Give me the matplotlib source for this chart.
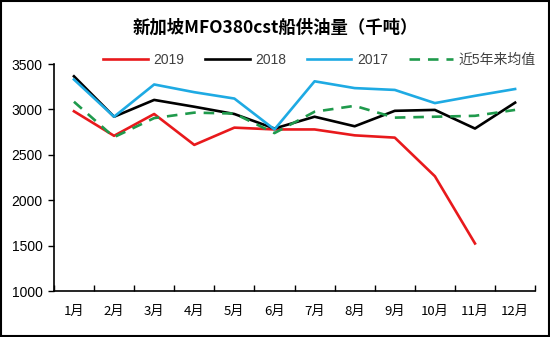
import matplotlib
matplotlib.use("Agg")
import matplotlib.pyplot as plt
from matplotlib.patches import Rectangle
import numpy as np

plt.rcParams['font.family'] = ['Liberation Sans', 'Noto Sans CJK SC', 'DejaVu Sans']

months = ['1月', '2月', '3月', '4月', '5月', '6月', '7月', '8月', '9月', '10月', '11月', '12月']
y2019 = [2980, 2710, 2950, 2610, 2800, 2780, 2780, 2715, 2690, 2265, 1525]
y2018 = [3365, 2920, 3105, 3030, 2950, 2790, 2920, 2815, 2985, 2995, 2790, 3075]
y2017 = [3330, 2920, 3275, 3190, 3120, 2780, 3310, 3235, 3215, 3070, 3150, 3225]
avg5 = [3085, 2695, 2905, 2965, 2955, 2740, 2975, 3040, 2910, 2920, 2930, 2995]
yticks = [1000, 1500, 2000, 2500, 3000, 3500]

fig = plt.figure(figsize=(5.5, 3.37), dpi=100)
ax = fig.add_axes([0.098, 0.136, 0.875, 0.674])

x = np.arange(len(months))
ax.plot(x[:len(y2019)], y2019, color='#e8191c', lw=1.9, label='2019')
ax.plot(x, y2018, color='#000000', lw=1.9, label='2018')
ax.plot(x, y2017, color='#1eaae3', lw=1.9, label='2017')
ax.plot(x, avg5, color='#1f9a4c', lw=1.9, ls=(0, (4, 3)), label='近5年来均值')

ax.set_xlim(-0.5, len(months) - 0.5)
ax.set_ylim(1000, 3500)
ax.set_yticks(yticks)
ax.set_yticklabels([str(v) for v in yticks], fontsize=10)
ax.tick_params(axis='y', direction='out', length=4, width=1, pad=4)

ax.set_xticks(np.arange(len(months) + 1) - 0.5)
ax.set_xticklabels([])
ax.tick_params(axis='x', which='major', direction='in', length=4, width=1)
ax.set_xticks(x, minor=True)
ax.set_xticklabels(months, minor=True, fontsize=9.5,
                   family=['Noto Sans CJK SC', 'DejaVu Sans'])
ax.tick_params(axis='x', which='minor', length=0, pad=10)

for s in ['top', 'right']:
    ax.spines[s].set_visible(False)
for s in ['left', 'bottom']:
    ax.spines[s].set_linewidth(1.2)

fig.text(0.5, 0.918, '新加坡MFO380cst船供油量（千吨）', ha='center', va='center',
         fontsize=12.5, fontweight='bold', family=['Noto Sans CJK SC', 'DejaVu Sans'])

leg = fig.legend(*ax.get_legend_handles_labels(), loc='center right',
                 bbox_to_anchor=(0.992, 0.822), ncol=4, frameon=False,
                 handlelength=3.2, columnspacing=1.5, handletextpad=0.4,
                 borderpad=0.2,
                 prop={'family': ['Liberation Sans', 'Noto Sans CJK SC'], 'size': 10})
for t in leg.get_texts():
    t.set_color('#404040')

fig.patches.append(Rectangle((0.002, 0.003), 0.996, 0.994, transform=fig.transFigure,
                             fill=False, edgecolor='black', lw=1.5))

fig.savefig('out.png', dpi=100)
